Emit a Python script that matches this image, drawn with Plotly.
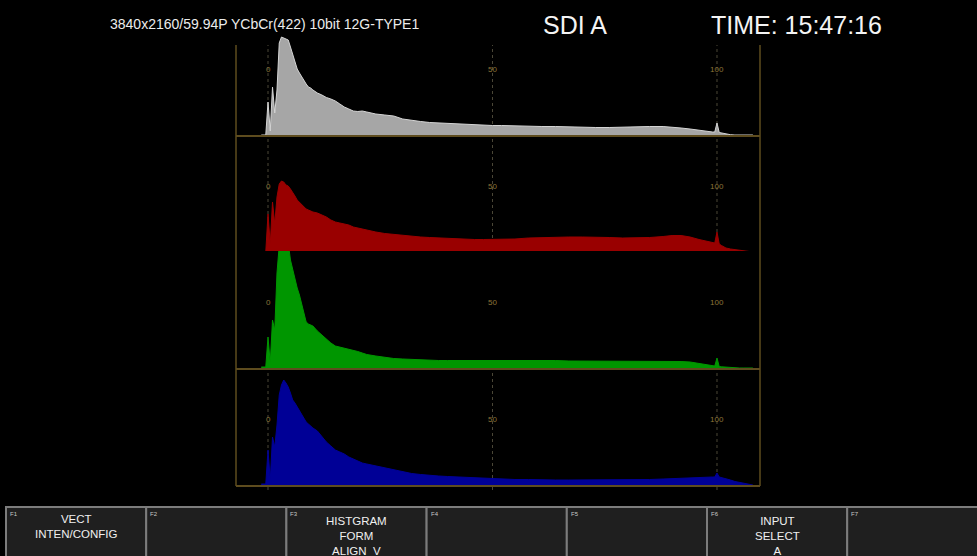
import plotly.graph_objects as go

# ---------------- data ----------------
levels = [-1.5, -1, -0.5, 0, 0.5, 1, 1.5, 2, 2.5, 3, 3.5, 4,
          4.5, 5, 5.5, 6, 6.5, 7, 7.5, 8, 8.5, 9, 9.5, 10,
          11, 12, 13, 14, 15, 16, 17, 18, 19, 20, 21, 22,
          24, 26, 28, 30, 32, 34, 36, 38, 40, 42, 44, 46, 48, 50,
          52, 55, 58, 61, 64, 67, 70, 73, 76, 79, 82, 85, 88,
          90, 92, 94, 96, 98, 99, 99.5, 100, 100.5, 101, 102, 103, 104, 105, 106, 107, 108]

hist_y = [0, 0, 0, 33, 4, 48, 22, 45, 92, 98, 97, 96,
          95, 88, 80, 72, 66, 62, 58, 54, 51, 48, 47, 45,
          42, 40, 37.5, 36, 34, 31, 28, 26, 24, 23.5, 24, 23,
          21, 20, 19, 16, 14.5, 13.5, 12.5, 12, 11.5, 11, 10.5, 10, 10, 9.5,
          9.5, 9, 9, 8.5, 8.5, 8, 8, 7.5, 7.5, 8, 8.5, 8.5, 8.5,
          8, 7, 6, 4.5, 3.5, 3, 3, 12, 2.5, 2, 1, 0.3, 0, 0, 0, 0, 0]

hist_r = [0, 0, 0, 38, 8, 50, 28, 55, 68, 71, 70, 67,
          66, 63, 60, 56, 52, 50, 48, 46, 43, 42, 41, 40,
          39, 37, 35, 32, 30, 29, 28, 27, 25, 24, 22.5, 21.5,
          20, 18.5, 17.5, 16.5, 15.5, 15, 14.5, 14, 13.5, 13, 13, 12.5, 12.5, 12.5,
          12.5, 13, 14, 14.5, 15, 15, 15, 15, 14.5, 14, 14, 14.5, 15.5,
          16.5, 16.5, 15, 12.5, 10.5, 9.5, 9, 20, 8, 6.5, 4, 3, 2.5, 2, 1.5, 1, 0]

hist_g = [1, 1, 1, 31, 5, 48, 38, 95, 140, 150, 150, 140,
          125, 108, 98, 88, 80, 73, 64, 55, 46, 44, 43, 42,
          37, 33, 28, 25, 22, 21, 20, 19, 18, 16.5, 15, 13.5,
          12, 10.5, 9.5, 9, 8.5, 8, 8, 7.5, 7.5, 7.5, 7.5, 7.5, 7.5, 7.5,
          7.5, 8, 7.5, 7.5, 7.5, 7, 7, 7, 7, 7, 7, 7, 7,
          7, 6.5, 6, 4.5, 3, 2, 2, 10, 1.5, 1.2, 0.8, 0.3, 0, 0, 0, 0, 0]

hist_b = [1, 1, 1, 35, 5, 48, 38, 60, 90, 100, 105, 102,
          98, 92, 85, 82, 78, 74, 70, 66, 63, 61, 59, 57,
          54, 48, 43, 39, 35, 33, 31, 28, 26, 24, 22, 21,
          19, 17, 15, 13, 11.5, 10.5, 9.5, 9, 8.5, 8, 7.5, 7, 6.5, 6,
          6, 5.5, 5.5, 5, 5, 5, 5, 5, 5, 5, 5, 5.5, 6,
          6.5, 7, 7.5, 8, 8, 8, 8, 12, 8, 7.5, 6.5, 5, 3.5, 2.5, 1.5, 0.5, 0]

tick_vals = [0, 50, 100]
tick_text = ["0", "50", "100"]

header_format = "3840x2160/59.94P YCbCr(422) 10bit 12G-TYPE1"
header_input = "SDI A"
header_time = "TIME: 15:47:16"

fkey_names = ["F1", "F2", "F3", "F4", "F5", "F6", "F7"]
fkey_labels = ["VECT<br>INTEN/CONFIG", "", "HISTGRAM<br>FORM<br>ALIGN_V", "", "",
               "INPUT<br>SELECT<br>A", ""]

# ---------------- styling / layout ----------------
W, H = 977, 556
def py(p):
    return 1 - p / H
def px(p):
    return p / W

series = [hist_y, hist_r, hist_g, hist_b]
fills = ["#a6a6a6", "#990000", "#009600", "#000096"]
lines = ["#d4d4d4", "#990000", "#009600", "#000096"]
panel_bottoms = [135, 252, 368, 485]
panel_h = 117
x_left, x_right = 236, 760
xrange_ = [-7.13, 109.58]
frame_col = "#5e4c1e"
label_col = "#8c7438"
grid_col = "#4a4636"

fig = go.Figure()
layout = dict(
    width=W, height=H,
    margin=dict(l=0, r=0, t=0, b=0),
    paper_bgcolor="black", plot_bgcolor="black",
    showlegend=False,
    font=dict(family="Liberation Sans, Arial, sans-serif", color="white"),
)

annotations = []
shapes = []

for i, (vals, fc, lc, pb) in enumerate(zip(series, fills, lines, panel_bottoms)):
    n = i + 1
    xa = "x" if n == 1 else f"x{n}"
    ya = "y" if n == 1 else f"y{n}"
    fig.add_trace(go.Scatter(
        x=levels, y=vals, xaxis=xa, yaxis=ya, mode="lines",
        line=dict(color=lc, width=1), fill="tozeroy", fillcolor=fc,
        hoverinfo="skip"))
    layout[f"xaxis{'' if n == 1 else n}"] = dict(
        domain=[px(x_left), px(x_right)], range=xrange_, anchor=ya,
        showgrid=False, zeroline=False, showticklabels=False, ticks="",
        showline=True, linecolor=frame_col, linewidth=1.5, fixedrange=True)
    layout[f"yaxis{'' if n == 1 else n}"] = dict(
        domain=[py(pb), py(pb - panel_h)], range=[0, panel_h], anchor=xa,
        visible=False, fixedrange=True)
    for tv, tt in zip(tick_vals, tick_text):
        annotations.append(dict(
            x=tv, y=66, xref=xa, yref=ya, text=tt, showarrow=False,
            font=dict(size=8, color=label_col), xanchor="center", yanchor="middle"))

# dotted level grid lines at tick values
for tv in tick_vals:
    shapes.append(dict(type="line", xref="x", yref="paper", x0=tv, x1=tv,
                       y0=py(490), y1=py(45), layer="below",
                       line=dict(color=grid_col, width=1, dash="dot")))
# vertical frame lines
for xp in (x_left, x_right):
    shapes.append(dict(type="line", xref="paper", yref="paper", x0=px(xp), x1=px(xp),
                       y0=py(486), y1=py(45), line=dict(color=frame_col, width=1.5)))

# header
annotations += [
    dict(x=px(264), y=py(24), xref="paper", yref="paper", text=header_format,
         showarrow=False, font=dict(size=14, color="#ececec"), xanchor="center", yanchor="middle"),
    dict(x=px(575), y=py(25), xref="paper", yref="paper", text=header_input,
         showarrow=False, font=dict(size=25, color="#f4f4f4"), xanchor="center", yanchor="middle"),
    dict(x=px(796), y=py(25), xref="paper", yref="paper", text=header_time,
         showarrow=False, font=dict(size=25, color="#f4f4f4"), xanchor="center", yanchor="middle"),
]

# function keys
key_w = 140.2
key_x0 = 6
for k, (nm, lab) in enumerate(zip(fkey_names, fkey_labels)):
    x0 = key_x0 + k * key_w
    x1 = x0 + key_w
    shapes.append(dict(type="rect", xref="paper", yref="paper",
                       x0=px(x0), x1=px(x1), y0=py(560), y1=py(507),
                       fillcolor="#1f1f1f", line=dict(color="#7c7c7c", width=2)))
    annotations.append(dict(x=px(x0 + 2), y=py(509), xref="paper", yref="paper", text=nm,
                            showarrow=False, font=dict(size=6, color="#c8c8c8"),
                            xanchor="left", yanchor="top"))
    if lab:
        nlines = lab.count("<br>") + 1
        cy = 526.5 if nlines == 2 else 535.5
        annotations.append(dict(x=px((x0 + x1) / 2), y=py(cy), xref="paper", yref="paper",
                                text=lab, showarrow=False, align="center",
                                font=dict(size=11.5, color="#f0f0f0"),
                                xanchor="center", yanchor="middle"))

layout["annotations"] = annotations
layout["shapes"] = shapes
fig.update_layout(**layout)
fig.write_html("out.html", config={"displayModeBar": False},
               post_script="document.body.style.margin='0';document.body.style.background='black';")
